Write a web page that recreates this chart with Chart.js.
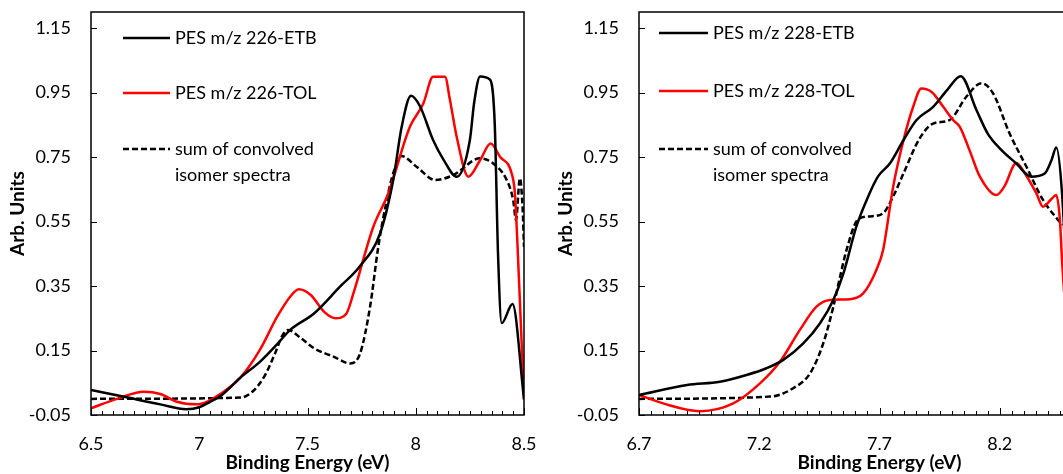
<!DOCTYPE html>
<html>
<head>
<meta charset="utf-8">
<script src="https://cdn.jsdelivr.net/npm/chart.js@4.4.1/dist/chart.umd.min.js"></script>
<style>
  html, body { margin: 0; padding: 0; background: #fff; overflow: hidden; }
  body { width: 1063px; height: 474px; position: relative; }
  canvas { position: absolute; top: 0; }
  #left { left: 0; }
  #right { left: 548px; }
</style>
</head>
<body>
<canvas id="left" width="545" height="474"></canvas>
<canvas id="right" width="593" height="474"></canvas>
<script>
// axis ticks
const yTicks = [-0.05, 0.15, 0.35, 0.55, 0.75, 0.95, 1.15];
const xTicks226 = [6.5, 7, 7.5, 8, 8.5];
const xTicks228 = [6.7, 7.2, 7.7, 8.2, 8.7];

// m/z 226 panel
const etb226X = [6.5, 6.67, 6.82, 6.94, 7.0, 7.05, 7.1, 7.19, 7.28, 7.36, 7.42, 7.53, 7.65, 7.74, 7.835, 7.896, 7.935, 7.978, 8.02, 8.08, 8.13, 8.189, 8.25, 8.27, 8.297, 8.343, 8.365, 8.38, 8.397, 8.447, 8.5];
const etb226Y = [0.028, 0.004, -0.017, -0.032, -0.026, -0.009, 0.01, 0.066, 0.115, 0.17, 0.214, 0.265, 0.348, 0.41, 0.513, 0.679, 0.844, 0.94, 0.907, 0.803, 0.74, 0.689, 0.803, 0.92, 1.0, 0.99, 0.85, 0.45, 0.235, 0.294, 0.0];

const tol226X = [6.5, 6.62, 6.743, 6.82, 6.897, 6.99, 7.035, 7.097, 7.19, 7.28, 7.36, 7.42, 7.46, 7.515, 7.577, 7.63, 7.68, 7.712, 7.804, 7.873, 7.973, 8.035, 8.08, 8.135, 8.158, 8.189, 8.243, 8.297, 8.346, 8.389, 8.443, 8.458, 8.473, 8.5];
const tol226Y = [-0.029, 0.0, 0.022, 0.015, -0.009, -0.017, -0.009, 0.015, 0.066, 0.152, 0.255, 0.317, 0.34, 0.322, 0.27, 0.25, 0.265, 0.327, 0.534, 0.637, 0.844, 0.916, 0.999, 0.999, 0.927, 0.813, 0.689, 0.74, 0.792, 0.751, 0.699, 0.637, 0.43, -0.003];

const sum226X = [6.5, 7.19, 7.245, 7.3, 7.35, 7.385, 7.41, 7.47, 7.53, 7.62, 7.697, 7.743, 7.789, 7.827, 7.866, 7.896, 7.935, 8.004, 8.089, 8.173, 8.297, 8.358, 8.42, 8.45, 8.463, 8.481, 8.494, 8.5];
const sum226Y = [0.0, 0.004, 0.022, 0.069, 0.141, 0.198, 0.214, 0.188, 0.157, 0.131, 0.11, 0.141, 0.286, 0.472, 0.616, 0.7, 0.753, 0.72, 0.679, 0.694, 0.746, 0.73, 0.679, 0.617, 0.555, 0.684, 0.586, 0.472];

// m/z 228 panel
const etb228X = [6.7, 6.9, 7.036, 7.147, 7.23, 7.3, 7.383, 7.452, 7.508, 7.55, 7.604, 7.653, 7.694, 7.743, 7.8, 7.854, 7.923, 7.98, 8.038, 8.103, 8.15, 8.2, 8.269, 8.331, 8.387, 8.415, 8.435, 8.459, 8.5];
const etb228Y = [0.012, 0.043, 0.053, 0.074, 0.095, 0.121, 0.172, 0.234, 0.307, 0.389, 0.535, 0.628, 0.69, 0.73, 0.803, 0.865, 0.906, 0.957, 1.001, 0.896, 0.823, 0.777, 0.73, 0.689, 0.699, 0.74, 0.78, 0.637, 0.0];

const tol228X = [6.7, 6.8, 6.953, 7.092, 7.203, 7.286, 7.369, 7.438, 7.494, 7.577, 7.632, 7.687, 7.715, 7.757, 7.8, 7.84, 7.874, 7.917, 7.965, 8.006, 8.034, 8.075, 8.117, 8.186, 8.22, 8.269, 8.304, 8.352, 8.38, 8.415, 8.435, 8.45, 8.459, 8.5];
const tol228Y = [0.012, -0.014, -0.038, -0.014, 0.048, 0.115, 0.214, 0.286, 0.307, 0.309, 0.327, 0.4, 0.462, 0.659, 0.803, 0.906, 0.963, 0.952, 0.906, 0.865, 0.844, 0.77, 0.69, 0.632, 0.66, 0.732, 0.7, 0.638, 0.596, 0.62, 0.632, 0.556, 0.43, 0.0];

const sum228X = [6.7, 7.245, 7.341, 7.411, 7.466, 7.508, 7.536, 7.563, 7.61, 7.66, 7.715, 7.757, 7.8, 7.867, 7.923, 7.992, 8.061, 8.124, 8.172, 8.241, 8.311, 8.38, 8.46];
const sum228Y = [0.0, 0.007, 0.033, 0.079, 0.172, 0.286, 0.379, 0.462, 0.556, 0.566, 0.576, 0.628, 0.7, 0.808, 0.854, 0.865, 0.937, 0.979, 0.948, 0.823, 0.72, 0.617, 0.539];

const legend226 = ['PES m/z 226-ETB', 'PES m/z 226-TOL', ['sum of convolved', 'isomer spectra']];
const legend228 = ['PES m/z 228-ETB', 'PES m/z 228-TOL', ['sum of convolved', 'isomer spectra']];

const FONT = 'Lato';
const DASH = [6, 3];
const pts = (xs, ys) => xs.map((x, i) => ({ x, y: ys[i] }));

// frame, inward tick marks and the legend block
const framePlugin = {
    id: 'frame',
    afterDraw(chart, args, opts) {
        const { ctx, chartArea: a, scales: { x, y } } = chart;
        ctx.save();
        ctx.strokeStyle = '#000';
        ctx.lineWidth = 1;
        for (let i = 0; ; i++) {
            const v = x.min + i * 0.05;
            if (v > x.max + 1e-9) break;
            const px = Math.round(x.getPixelForValue(v)) + 0.5;
            ctx.beginPath();
            ctx.moveTo(px, a.bottom);
            ctx.lineTo(px, a.bottom - (i % 10 === 0 ? 7 : 4));
            ctx.stroke();
        }
        yTicks.forEach(v => {
            const py = Math.round(y.getPixelForValue(v)) + 0.5;
            ctx.beginPath();
            ctx.moveTo(a.left, py);
            ctx.lineTo(a.left + 6, py);
            ctx.stroke();
        });
        ctx.lineWidth = 1.5;
        ctx.strokeRect(a.left, a.top, a.right - a.left, a.bottom - a.top);

        // legend
        ctx.font = '18px ' + FONT;
        ctx.fillStyle = '#000';
        ctx.textBaseline = 'middle';
        chart.data.datasets.forEach((ds, i) => {
            const ry = opts.rows[i];
            ctx.strokeStyle = ds.borderColor;
            ctx.lineWidth = 2.5;
            ctx.setLineDash(ds.borderDash || []);
            ctx.beginPath();
            ctx.moveTo(a.left + opts.x0, ry);
            ctx.lineTo(a.left + opts.x1, ry);
            ctx.stroke();
            ctx.setLineDash([]);
            const lines = [].concat(opts.labels[i]);
            lines.forEach((t, k) => ctx.fillText(t, a.left + opts.tx, ry + k * 26));
        });
        ctx.restore();
    }
};

function makeChart(id, xTicks, series, legendOpts) {
    new Chart(document.getElementById(id), {
        type: 'line',
        data: {
            datasets: [
                { data: pts(series[0], series[1]), borderColor: '#000000' },
                { data: pts(series[2], series[3]), borderColor: '#ff0000' },
                { data: pts(series[4], series[5]), borderColor: '#000000', borderDash: DASH }
            ].map(d => Object.assign(d, {
                borderWidth: 2.5, pointRadius: 0, fill: false, cubicInterpolationMode: 'monotone'
            }))
        },
        options: {
            responsive: false,
            animation: false,
            devicePixelRatio: 1,
            layout: { padding: { left: 0, right: 21, top: 12, bottom: 0 } },
            plugins: { legend: { display: false }, tooltip: { enabled: false }, frame: legendOpts },
            scales: {
                x: {
                    type: 'linear',
                    min: xTicks[0],
                    max: xTicks[xTicks.length - 1],
                    afterBuildTicks: s => { s.ticks = xTicks.map(v => ({ value: v })); },
                    afterFit: s => { s.height = 59; s.paddingLeft = 0; s.paddingRight = 0; },
                    grid: { display: false, drawTicks: false },
                    border: { display: false },
                    ticks: { callback: v => String(v), color: '#000', font: { family: FONT, size: 18 }, padding: 18, maxRotation: 0, autoSkip: false },
                    title: { display: true, text: 'Binding Energy (eV)', color: '#000', font: { family: FONT, size: 19, weight: 'bold' }, padding: 0 }
                },
                y: {
                    type: 'linear',
                    min: -0.05,
                    max: 1.2,
                    afterBuildTicks: s => { s.ticks = yTicks.map(v => ({ value: v })); },
                    afterFit: s => { s.width = 91; s.paddingTop = 0; s.paddingBottom = 0; },
                    grid: { display: false, drawTicks: false },
                    border: { display: false },
                    ticks: { callback: v => v.toFixed(2), color: '#000', font: { family: FONT, size: 18 }, padding: 20 },
                    title: { display: true, text: 'Arb. Units', color: '#000', font: { family: FONT, size: 19, weight: 'bold' }, padding: { top: 6, bottom: 0 } }
                }
            }
        },
        plugins: [framePlugin]
    });
}

makeChart('left', xTicks226, [etb226X, etb226Y, tol226X, tol226Y, sum226X, sum226Y],
    { x0: 32, x1: 79, tx: 84, rows: [38, 93, 149], labels: legend226 });
makeChart('right', xTicks228, [etb228X, etb228Y, tol228X, tol228Y, sum228X, sum228Y],
    { x0: 20, x1: 69, tx: 74, rows: [33, 91, 149], labels: legend228 });
</script>
</body>
</html>
